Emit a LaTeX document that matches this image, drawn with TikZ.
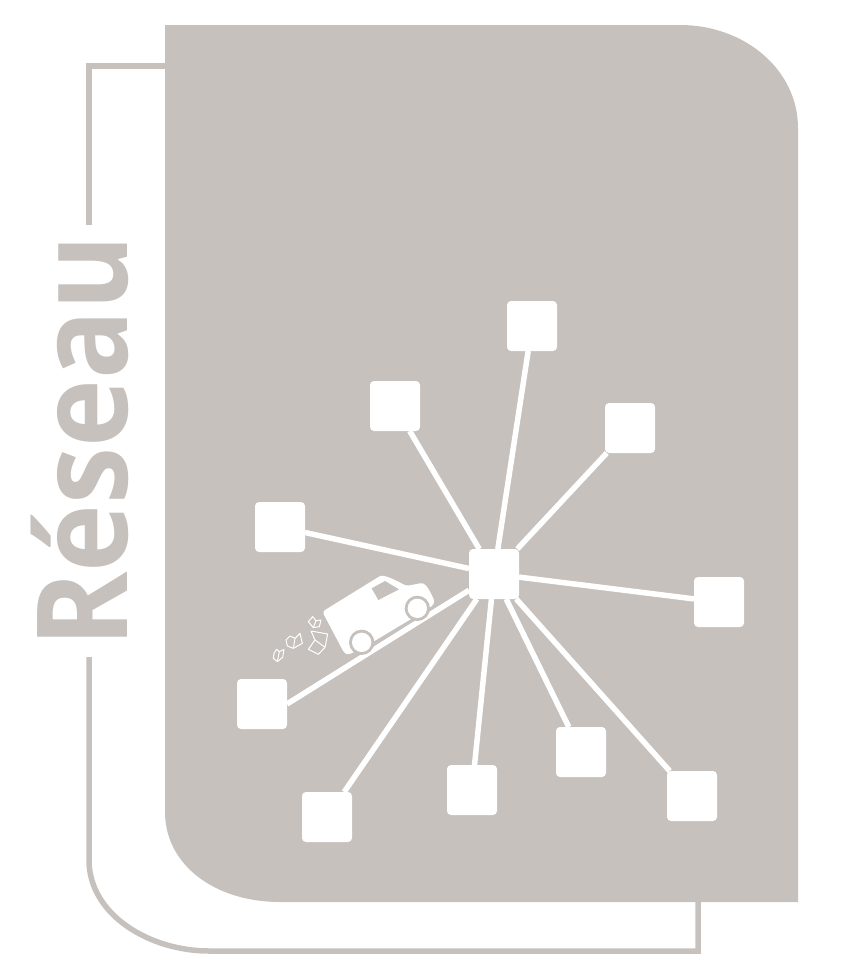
\documentclass[tikz,border=0pt]{standalone}
\usepackage{fontspec}
\setmainfont{Open Sans}
\usetikzlibrary{positioning}
\definecolor{panelgrey}{HTML}{C6C1BD}
\tikzset{
    square/.style={rectangle,fill=white,rounded corners=4pt,minimum size=50pt,inner sep=0pt,outer sep=0pt},
    spoke/.style={draw=white,line width=5.5pt},
    frameline/.style={draw=panelgrey,line width=5.5pt},
    leaf/.style={draw=white,fill=panelgrey,line width=1pt,line join=round},
}
\begin{document}
\begin{tikzpicture}[x=1pt,y=-1pt]
    \useasboundingbox (0,0) rectangle (842,972);

    \path[frameline] (165,66) -- (89,66) -- (89,225);
    \path[frameline] (89,657) -- (89,860) .. controls (89,915) and (150,951) .. (209,951) -- (698,951) -- (698,900);
    \fill[panelgrey] (165,25) -- (680,25) .. controls (745,25) and (798,70) .. (798,128)
        -- (798,902) -- (280,902) .. controls (215,902) and (165,865) .. (165,812) -- cycle;

    \node[rotate=90,xscale=.91,anchor=base,text=panelgrey,font=\bfseries\fontsize{126}{126}\selectfont,inner sep=0pt] (label) at (127,441.5) {Réseau};

    \node[square] (hub) at (494,574) {};
    \node[square] (sq1) [above right=198pt and -12pt of hub] {};
    \node[square] (sq2) [above left=118pt and 49pt of hub] {};
    \node[square] (sq3) [above right=96pt and 86pt of hub] {};
    \node[square] (sq4) [above left=-3pt and 164pt of hub] {};
    \node[square] (sq5) [below right=-22pt and 175pt of hub] {};
    \node[square] (sq6) [below left=80pt and 182pt of hub] {};
    \node[square] (sq7) [below left=193pt and 117pt of hub] {};
    \node[square] (sq8) [below left=166pt and -28pt of hub] {};
    \node[square] (sq9) [below right=128pt and 37pt of hub] {};
    \node[square] (sq10) [below right=172pt and 148pt of hub] {};

    \path[spoke]
    (hub) edge node {} (sq1)
    (hub) edge node {} (sq2)
    (hub) edge node {} (sq3)
    (hub) edge node {} (sq4)
    (hub) edge node {} (sq5);

    \path[spoke]
    (hub.-147) edge node {} (sq6.east)
    (hub) edge node {} (sq7)
    (hub) edge node {} (sq8)
    (hub) edge node {} (sq9)
    (hub) edge node {} (sq10);

    % van and books
    \begin{scope}[shift={(260,560)},x=.3333pt,y=-.3333pt]
        \fill[white,rounded corners=3pt] (187,155) -- (365,45) -- (395,55) -- (440,78) -- (490,68)
            -- (505,85) -- (525,125) -- (515,140) -- (340,245) -- (265,285) -- (252,278) -- cycle;
        \fill[panelgrey] (472,145) circle (38);
        \fill[panelgrey] (305,247) circle (38);
        \fill[white] (472,145) circle (29);
        \fill[white] (305,247) circle (29);
        \fill[panelgrey] (335,85) -- (375,63) -- (417,88) -- (355,120) -- cycle;
        \path[leaf] (153,213) -- (203,222) -- (195,262) -- (175,283) -- (145,268) -- (165,240) -- cycle;
        \path[leaf] (165,240) -- (195,262);
        \path[leaf] (78,240) -- (90,228) -- (105,235) -- (120,220) -- (127,250) -- (100,265) -- (82,258) -- cycle;
        \path[leaf] (105,235) -- (100,265);
        \path[leaf] (145,185) -- (158,170) -- (168,182) -- (183,180) -- (178,200) -- (160,203) -- cycle;
        \path[leaf] (168,182) -- (160,203);
        \path[leaf] (42,280) -- (50,268) -- (58,275) -- (72,268) -- (68,292) -- (52,305) -- (40,295) -- cycle;
        \path[leaf] (58,275) -- (52,305);
    \end{scope}
\end{tikzpicture}
\end{document}
